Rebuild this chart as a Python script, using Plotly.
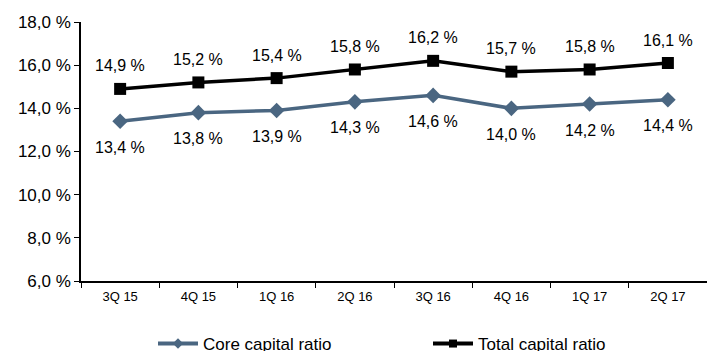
import plotly.graph_objects as go

categories = ["3Q 15", "4Q 15", "1Q 16", "2Q 16", "3Q 16", "4Q 16", "1Q 17", "2Q 17"]
core = [13.4, 13.8, 13.9, 14.3, 14.6, 14.0, 14.2, 14.4]
total = [14.9, 15.2, 15.4, 15.8, 16.2, 15.7, 15.8, 16.1]
y_ticks = [6, 8, 10, 12, 14, 16, 18]

FONT = "Liberation Sans, Arial, sans-serif"
core_color = "#4a6681"

def fmt(v):
    return f"{v:.1f}".replace(".", ",") + " %"

fig = go.Figure()
fig.add_trace(go.Scatter(x=categories, y=core, mode="lines+markers", name="Core capital ratio",
                         line=dict(color=core_color, width=3.5), showlegend=False,
                         marker=dict(symbol="diamond", size=12, color=core_color)))
fig.add_trace(go.Scatter(x=categories, y=total, mode="lines+markers", name="Total capital ratio",
                         line=dict(color="black", width=3.5), showlegend=False,
                         marker=dict(symbol="square", size=12, color="black")))
# legend entries (smaller symbols, as in the reference legend)
fig.add_trace(go.Scatter(x=[None], y=[None], mode="lines+markers", name="Core capital ratio",
                         line=dict(color=core_color, width=4),
                         marker=dict(symbol="diamond", size=8, color=core_color)))
fig.add_trace(go.Scatter(x=[None], y=[None], mode="lines+markers", name="Total capital ratio",
                         line=dict(color="black", width=4),
                         marker=dict(symbol="square", size=8, color="black")))

annotations = []
for c, v in zip(categories, core):
    annotations.append(dict(x=c, y=v, text=fmt(v), showarrow=False, yshift=-26,
                            font=dict(family=FONT, size=16, color="black")))
for c, v in zip(categories, total):
    annotations.append(dict(x=c, y=v, text=fmt(v), showarrow=False, yshift=23,
                            font=dict(family=FONT, size=16, color="black")))

fig.update_layout(
    width=707, height=351,
    margin=dict(l=81, r=0, t=22, b=70),
    plot_bgcolor="white", paper_bgcolor="white",
    font=dict(family=FONT, color="black"),
    annotations=annotations,
    showlegend=True,
    legend=dict(orientation="h", x=153 / 707, xref="container", xanchor="left",
                y=1 - 326 / 351, yref="container", yanchor="top",
                font=dict(family=FONT, size=17, color="black"),
                entrywidth=220, entrywidthmode="pixels", itemwidth=40,
                tracegroupgap=0, itemclick=False),
    xaxis=dict(type="category", range=[-0.5, 7.5], showline=True, linecolor="black", linewidth=1.5,
               ticks="outside", tickson="boundaries", ticklen=5, tickcolor="black",
               ticklabelstandoff=3,
               tickfont=dict(family=FONT, size=13, color="black"), showgrid=False),
    yaxis=dict(range=[6, 18], tickvals=y_ticks, ticktext=[fmt(v) for v in y_ticks],
               showline=True, linecolor="black", linewidth=1.5, ticks="outside", ticklen=5,
               tickcolor="black", tickfont=dict(family=FONT, size=17, color="black"),
               showgrid=False, zeroline=False),
)

fig.write_html("out.html")
